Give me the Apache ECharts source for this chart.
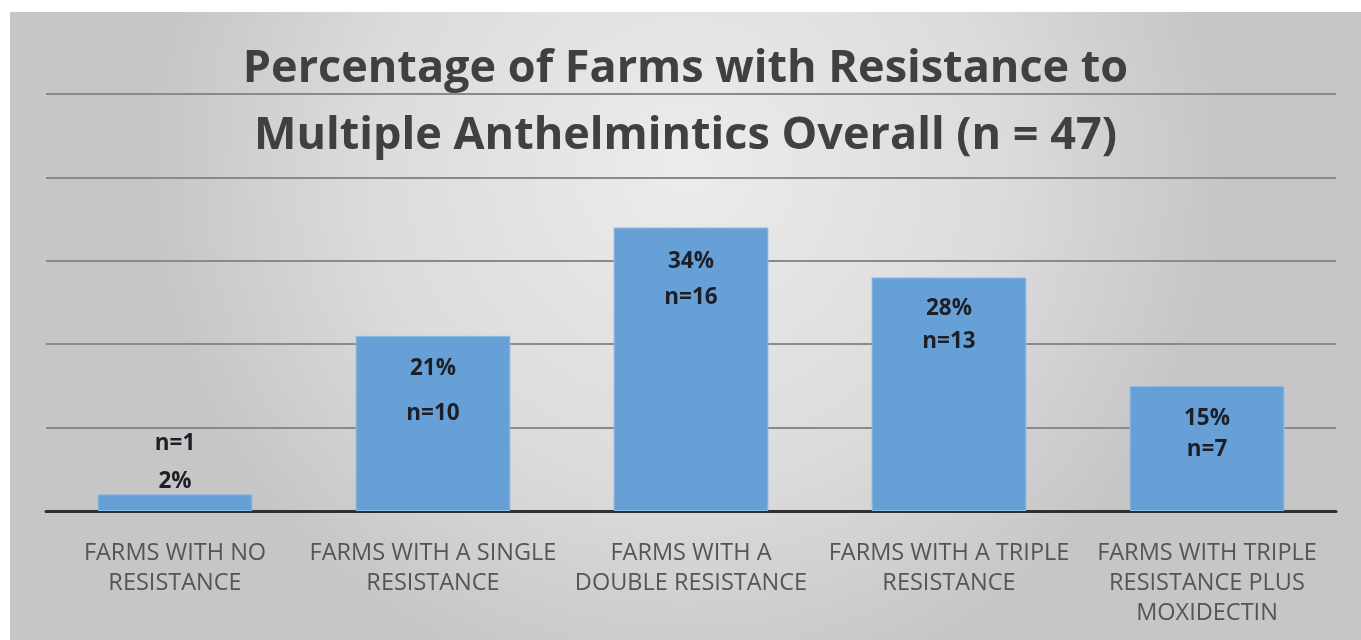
<!DOCTYPE html>
<html>
<head>
<meta charset="utf-8">
<script src="https://cdn.jsdelivr.net/npm/echarts@6/dist/echarts.min.js"></script>
<style>
  html, body { margin: 0; padding: 0; background: #ffffff; }
  #chart { position: absolute; left: 10px; top: 12px; width: 1351px; height: 628px; }
</style>
</head>
<body>
<div id="chart"></div>
<script>
// Share of farms by number of anthelmintic classes with resistance
const categories = [
  'FARMS WITH NO\nRESISTANCE',
  'FARMS WITH A SINGLE\nRESISTANCE',
  'FARMS WITH A\nDOUBLE RESISTANCE',
  'FARMS WITH A TRIPLE\nRESISTANCE',
  'FARMS WITH TRIPLE\nRESISTANCE PLUS\nMOXIDECTIN'
];
const percentValues = [2, 21, 34, 28, 15];
const farmCounts = [1, 10, 16, 13, 7];
const yTicks = [0, 10, 20, 30, 40, 50];

// Label styling per bar (placement of the two-line value label)
const labelStyles = [
  { position: 'top', distance: -6, lineHeight: 38, countFirst: true },
  { position: 'insideTop', distance: 10, lineHeight: 45, countFirst: false },
  { position: 'insideTop', distance: 16, lineHeight: 36, countFirst: false },
  { position: 'insideTop', distance: 15, lineHeight: 33, countFirst: false },
  { position: 'insideTop', distance: 17, lineHeight: 31, countFirst: false }
];

const labelFont = { fontFamily: 'Open Sans', fontWeight: 'bold', fontSize: 22.5, color: '#1c1f26' };

const barData = percentValues.map((v, i) => {
  const s = labelStyles[i];
  const pct = '{t|' + v + '%}';
  const cnt = '{t|n=' + farmCounts[i] + '}';
  return {
    value: v,
    label: {
      show: true,
      position: s.position,
      distance: s.distance,
      formatter: s.countFirst ? cnt + '\n' + pct : pct + '\n' + cnt,
      rich: { t: Object.assign({ lineHeight: s.lineHeight }, labelFont) }
    }
  };
});

const chart = echarts.init(document.getElementById('chart'));
chart.setOption({
  backgroundColor: {
    type: 'radial', x: 0.5, y: 0.25, r: 0.85,
    colorStops: [
      { offset: 0, color: '#ececec' },
      { offset: 0.6, color: '#dbdbdb' },
      { offset: 1, color: '#c6c6c6' }
    ]
  },
  title: {
    text: 'Percentage of Farms with Resistance to\nMultiple Anthelmintics Overall (n = 47)',
    left: 'center',
    top: 19,
    textStyle: {
      fontFamily: 'Open Sans', fontWeight: 'bold', fontSize: 45,
      color: '#404040', lineHeight: 67
    }
  },
  grid: { left: 36, right: 25, top: 82, bottom: 129 },
  xAxis: {
    type: 'category',
    data: categories,
    axisTick: { show: false },
    axisLine: { lineStyle: { color: '#303030', width: 3 } },
    axisLabel: {
      margin: 27, interval: 0,
      fontFamily: 'Open Sans', fontSize: 23.5, color: '#555555', lineHeight: 30
    }
  },
  yAxis: {
    type: 'value',
    min: yTicks[0], max: yTicks[yTicks.length - 1], interval: 10,
    axisLabel: { show: false },
    axisLine: { show: false },
    axisTick: { show: false },
    splitLine: { lineStyle: { color: '#8a8a8a', width: 2 } }
  },
  series: [{
    type: 'bar',
    data: barData,
    barWidth: '60%',
    itemStyle: { color: '#67a0d6', borderColor: '#8dbbe6', borderWidth: 1 }
  }]
});
</script>
</body>
</html>
